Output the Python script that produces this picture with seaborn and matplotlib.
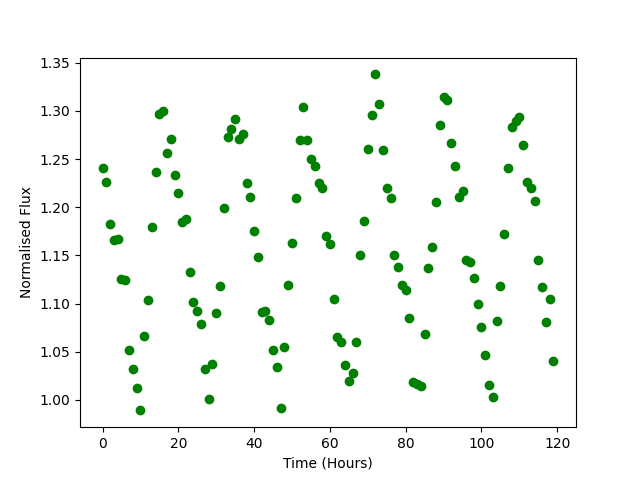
"""Scatter of normalised flux against time"""
import numpy as np
import pandas as pd
import seaborn as sns
import matplotlib
matplotlib.use("Agg")
import matplotlib.pyplot as plt

# hourly samples
hours = list(range(120))
flux = [
    1.241, 1.226, 1.183, 1.166, 1.167, 1.126, 1.124, 1.052, 1.032, 1.012,
    0.989, 1.066, 1.104, 1.179, 1.237, 1.297, 1.300, 1.256, 1.271, 1.234,
    1.215, 1.185, 1.188, 1.133, 1.102, 1.092, 1.079, 1.032, 1.001, 1.037,
    1.090, 1.118, 1.199, 1.273, 1.281, 1.292, 1.271, 1.276, 1.225, 1.211,
    1.175, 1.148, 1.091, 1.092, 1.083, 1.052, 1.034, 0.991, 1.055, 1.119,
    1.163, 1.210, 1.270, 1.304, 1.270, 1.250, 1.243, 1.225, 1.220, 1.170,
    1.162, 1.105, 1.065, 1.060, 1.036, 1.020, 1.028, 1.060, 1.150, 1.186,
    1.260, 1.296, 1.338, 1.307, 1.259, 1.220, 1.210, 1.150, 1.138, 1.119,
    1.114, 1.085, 1.018, 1.016, 1.014, 1.068, 1.137, 1.159, 1.205, 1.285,
    1.315, 1.311, 1.267, 1.243, 1.211, 1.217, 1.145, 1.143, 1.127, 1.100,
    1.076, 1.047, 1.015, 1.003, 1.082, 1.118, 1.172, 1.241, 1.283, 1.290,
    1.294, 1.265, 1.226, 1.220, 1.207, 1.145, 1.117, 1.081, 1.105, 1.040,
]

df = pd.DataFrame({"time": hours, "flux": flux})

fig, ax = plt.subplots(figsize=(6.4, 4.8), dpi=100)

sns.scatterplot(data=df, x="time", y="flux", color="green",
                s=36, edgecolor="green", linewidth=1, ax=ax)

ax.set_xlabel("Time (Hours)")
ax.set_ylabel("Normalised Flux")

plt.savefig("out.png")
plt.close()
